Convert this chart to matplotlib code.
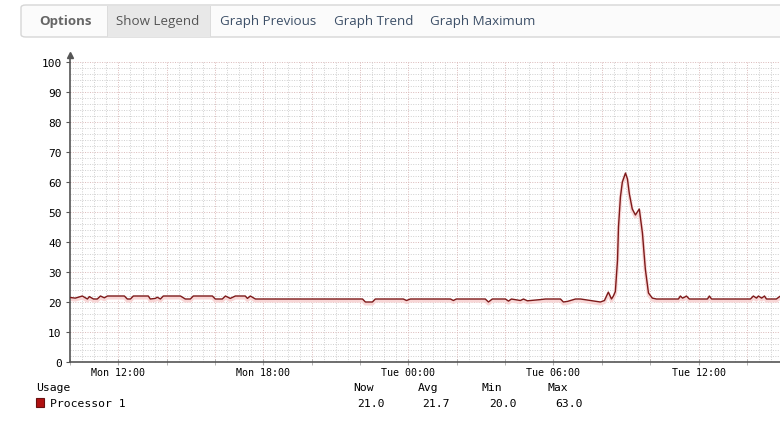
import matplotlib
matplotlib.use("Agg")
import matplotlib.pyplot as plt
from matplotlib.patches import FancyBboxPatch, Rectangle
import numpy as np

# ---- data (hours since Mon 00:00, CPU usage %) ----
hours = [10.01, 10.22, 10.51, 10.72, 10.80, 10.97, 11.13, 11.26, 11.42, 11.55, 12.25, 12.37, 12.50, 12.62,
         13.24, 13.32, 13.53, 13.61, 13.74, 13.86, 14.57, 14.77, 14.98, 15.10, 15.89, 16.01, 16.30, 16.43,
         16.63, 16.84, 17.25, 17.34, 17.46, 17.67, 22.10, 22.22, 22.51, 22.63, 23.79, 23.92, 24.08, 25.74,
         25.86, 25.98, 27.18, 27.31, 27.47, 28.01, 28.14, 28.26, 28.63, 28.76, 28.92, 29.46, 29.67, 30.29,
         30.41, 30.58, 30.91, 31.12, 31.53, 31.94, 32.11, 32.27, 32.40, 32.48, 32.56, 32.65, 32.69, 32.77,
         32.85, 32.98, 33.06, 33.14, 33.26, 33.39, 33.47, 33.55, 33.68, 33.80, 33.93, 34.09, 34.26, 35.17,
         35.25, 35.34, 35.42, 35.50, 35.62, 36.37, 36.45, 36.54, 38.15, 38.27, 38.40, 38.48, 38.61, 38.73,
         38.81, 39.22, 39.39]
usage = [21.5, 21.3, 22.0, 21.0, 21.8, 21.0, 21.0, 22.0, 21.4, 22.0, 22.0, 21.0, 21.0, 22.0,
         22.0, 21.0, 21.2, 21.6, 21.0, 22.0, 22.0, 21.0, 21.0, 22.0, 22.0, 21.0, 21.0, 22.0,
         21.2, 22.0, 22.0, 21.2, 22.0, 21.0, 21.0, 20.0, 20.0, 21.0, 21.0, 20.5, 21.0, 21.0,
         20.5, 21.0, 21.0, 20.0, 21.0, 21.0, 20.3, 21.0, 20.5, 21.0, 20.4, 20.8, 21.0, 21.0,
         20.0, 20.2, 21.0, 21.0, 20.5, 20.0, 20.5, 23.3, 21.0, 22.0, 23.5, 34.0, 45.0, 55.0,
         60.0, 63.0, 61.0, 56.0, 51.0, 49.0, 50.0, 51.0, 43.0, 31.0, 23.0, 21.3, 21.0, 21.0,
         22.0, 21.3, 21.6, 22.0, 21.0, 21.0, 22.0, 21.0, 21.0, 22.0, 21.3, 22.0, 21.3, 22.0,
         21.0, 21.0, 22.0]
tick_hours = [12, 18, 24, 30, 36]
tick_labels = ["Mon 12:00", "Mon 18:00", "Tue 00:00", "Tue 06:00", "Tue 12:00"]
y_ticks = [0, 10, 20, 30, 40, 50, 60, 70, 80, 90, 100]
stat_names = ["Now", "Avg", "Min", "Max"]
stat_values = ["21.0", "21.7", "20.0", "63.0"]
series_name = "Processor 1"
menu_items = ["Options", "Show Legend", "Graph Previous", "Graph Trend", "Graph Maximum"]

W, H = 780, 439
fig = plt.figure(figsize=(W / 100, H / 100), dpi=100)
fig.patch.set_facecolor("white")


def fx(px):
    return px / W


def fy(py):
    return 1 - py / H


mono = "DejaVu Sans Mono"

# ---- toolbar ----
bar = FancyBboxPatch((fx(21), fy(38)), fx(800) - fx(21), fy(6) - fy(38),
                     boxstyle="round,pad=0,rounding_size=0.006", transform=fig.transFigure,
                     facecolor="#fbfbfb", edgecolor="#d6d6d6", linewidth=1.0, zorder=1)
fig.patches.append(bar)
fig.patches.append(Rectangle((fx(107), fy(37.5)), fx(210) - fx(107), fy(6.5) - fy(37.5),
                             transform=fig.transFigure, facecolor="#e8e8e8", edgecolor="none", zorder=2))
for xp in [107, 210]:
    fig.patches.append(Rectangle((fx(xp), fy(37.5)), fx(1), fy(6.5) - fy(37.5),
                                 transform=fig.transFigure, facecolor="#dcdcdc", edgecolor="none", zorder=3))
menu_x = [65, 158, 268, 374, 483]
menu_colors = ["#666666", "#555555", "#3d5068", "#3d5068", "#3d5068"]
for i, (name, xp) in enumerate(zip(menu_items, menu_x)):
    fig.text(fx(xp), fy(22), name, ha="center", va="center", family="Open Sans",
             fontsize=9.6, color=menu_colors[i],
             fontweight="bold" if i == 0 else "normal", zorder=5)

# ---- plot ----
ax = fig.add_axes([fx(70), fy(363), 1 - fx(70) + 0.01, fy(63) - fy(363)])
ax.set_xlim(10.0, 39.4 + (39.4 - 10.0) * 0.01)
ax.set_ylim(0, 100)

# grid
for v in np.arange(2, 100.1, 2):
    major = (v % 10 == 0)
    ax.axhline(v, color="#dbb9b9" if major else "#cfcfcf", lw=0.7, ls=(0, (1, 1.5)), zorder=0)
for t in np.arange(10.5, 40, 0.5):
    major = (t % 2 == 0)
    ax.axvline(t, color="#dbb9b9" if major else "#cfcfcf", lw=0.7, ls=(0, (1, 1.5)), zorder=0)

usage_arr = np.array(usage)
ax.plot(hours, usage_arr - 0.6, color="#f8d6d6", lw=2.5, solid_joinstyle="round", zorder=2)
ax.plot(hours, usage, color="#7d1a1a", lw=1.0, solid_joinstyle="round", zorder=3)

for s in ["top", "right"]:
    ax.spines[s].set_visible(False)
for s in ["left", "bottom"]:
    ax.spines[s].set_color("#555555")
    ax.spines[s].set_linewidth(1.2)
ax.spines["left"].set_bounds(0, 101.5)
ax.plot([10.0], [102.2], marker="^", color="#555555", markersize=5, clip_on=False, zorder=4)

ax.set_yticks(y_ticks)
ax.set_yticklabels([str(v) for v in y_ticks], family=mono, fontsize=8)
ax.set_xticks(tick_hours)
ax.set_xticklabels(tick_labels, family=mono, fontsize=7.2)
ax.set_xticks(np.arange(10, 40, 2), minor=True)
ax.tick_params(axis="y", direction="out", length=3, color="#555555", pad=3, labelcolor="black")
ax.tick_params(axis="x", which="both", direction="inout", length=5, color="#aaaaaa", pad=1,
               labelcolor="black")
ax.set_facecolor("white")

# ---- legend / stats ----
fig.text(fx(36), fy(388), "Usage", family=mono, fontsize=8.2, va="center", ha="left")
fig.patches.append(Rectangle((fx(36), fy(408)), fx(8), fy(399) - fy(408), transform=fig.transFigure,
                             facecolor="#b01010", edgecolor="#6a1010", lw=0.8))
fig.text(fx(50), fy(404), series_name, family=mono, fontsize=8.2, va="center", ha="left")
head_x = [353, 418, 482, 548]
val_x = [385, 450, 517, 583]
for name, val, hx, vx in zip(stat_names, stat_values, head_x, val_x):
    fig.text(fx(hx), fy(388), name, family=mono, fontsize=8.2, va="center", ha="left")
    fig.text(fx(vx), fy(404), val, family=mono, fontsize=8.2, va="center", ha="right")

fig.savefig("out.png", dpi=100, facecolor="white")
